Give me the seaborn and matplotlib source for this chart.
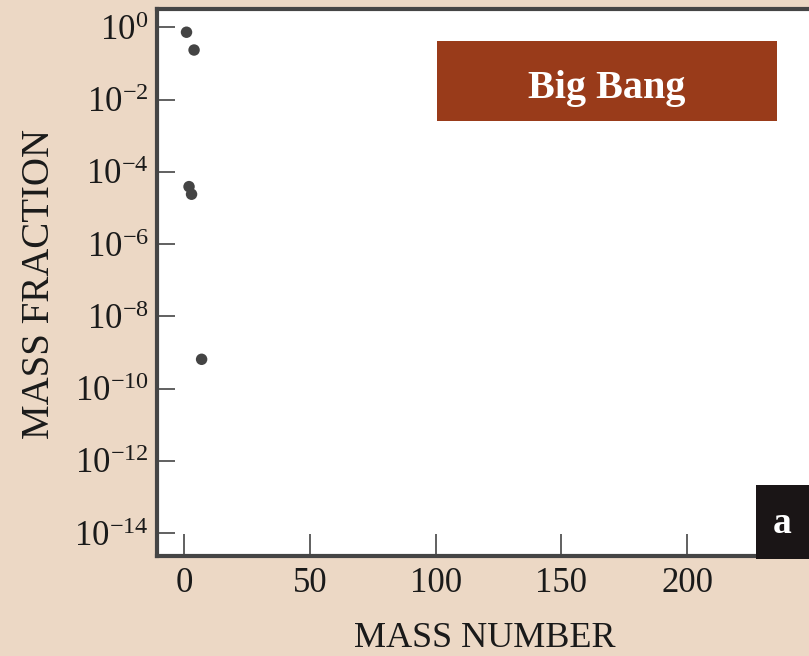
import matplotlib
matplotlib.use("Agg")
import matplotlib.pyplot as plt
from matplotlib.patches import Rectangle
import seaborn as sns
import pandas as pd

# ---- data ----
mass_number = [1, 2, 3, 4, 7]
mass_fraction = [0.73, 3.9e-5, 2.4e-5, 0.235, 6.5e-10]
ytick_values = [1e0, 1e-2, 1e-4, 1e-6, 1e-8, 1e-10, 1e-12, 1e-14]
ytick_labels = [r"$10^{0}$", r"$10^{-2}$", r"$10^{-4}$", r"$10^{-6}$",
                r"$10^{-8}$", r"$10^{-10}$", r"$10^{-12}$", r"$10^{-14}$"]
xtick_values = [0, 50, 100, 150, 200]
xtick_labels = ["0", "50", "100", "150", "200"]
panel_title = "Big Bang"
panel_letter = "a"
x_label = "MASS NUMBER"
y_label = "MASS FRACTION"

df = pd.DataFrame({"A": mass_number, "X": mass_fraction})

sns.set_theme(style="white")
plt.rcParams["font.family"] = ["Liberation Serif", "DejaVu Serif"]
plt.rcParams["mathtext.fontset"] = "custom"
plt.rcParams["mathtext.rm"] = "Liberation Serif"
plt.rcParams["mathtext.it"] = "Liberation Serif:italic"
plt.rcParams["mathtext.bf"] = "Liberation Serif:bold"

bg = "#ecd8c5"
spine_col = "#454545"

fig = plt.figure(figsize=(8.09, 6.56), dpi=100, facecolor=bg)
ax = fig.add_axes([157 / 809, 100 / 656, 652 / 809, 547 / 656])
ax.set_facecolor("white")

sns.scatterplot(data=df, x="A", y="X", ax=ax, color="#444444", s=68,
                edgecolor="none", legend=False, zorder=3)

ax.set_yscale("log")
ax.set_xlim(-10.73, 248.4)
ax.set_ylim(10 ** -14.63, 10 ** 0.506)

ax.set_yticks(ytick_values)
ax.set_yticklabels(ytick_labels)
ax.set_xticks(xtick_values)
ax.set_xticklabels(xtick_labels)
ax.minorticks_off()

ax.tick_params(axis="y", direction="in", length=13, width=1.2, color=spine_col,
               labelsize=25, pad=6, labelcolor="#1a1a1a", left=True)
ax.tick_params(axis="x", direction="in", length=16, width=1.2, color=spine_col,
               labelsize=25, pad=8, labelcolor="#1a1a1a", bottom=True)

for side in ["left", "bottom", "top"]:
    ax.spines[side].set_color(spine_col)
    ax.spines[side].set_linewidth(3)
ax.spines["right"].set_visible(False)

ax.set_xlabel(x_label, fontsize=26, color="#1a1a1a", va="center")
ax.set_ylabel(y_label, fontsize=28, color="#1a1a1a", va="center")
ax.xaxis.set_label_coords(0.502, -0.150)
ax.yaxis.set_label_coords(-0.1795, 0.498)

# title banner
ax.add_patch(Rectangle((0.4294, 0.7952), 0.9509 - 0.4294, 0.9415 - 0.7952,
                       transform=ax.transAxes, facecolor="#993b1a",
                       edgecolor="none", zorder=4))
ax.text(0.690, 0.8373, panel_title, transform=ax.transAxes, color="white",
        fontsize=29, fontweight="bold", ha="center", va="baseline", zorder=5)

# panel letter box
ax.add_patch(Rectangle((0.9187, -0.006), 0.1, 0.1298 + 0.006,
                       transform=ax.transAxes, facecolor="#1a1516",
                       edgecolor="none", zorder=6, clip_on=False))
ax.text(0.9586, 0.042, panel_letter, transform=ax.transAxes, color="white",
        fontsize=27, fontweight="bold", ha="center", va="baseline", zorder=7)

fig.savefig("out.png", dpi=100, facecolor=bg)
